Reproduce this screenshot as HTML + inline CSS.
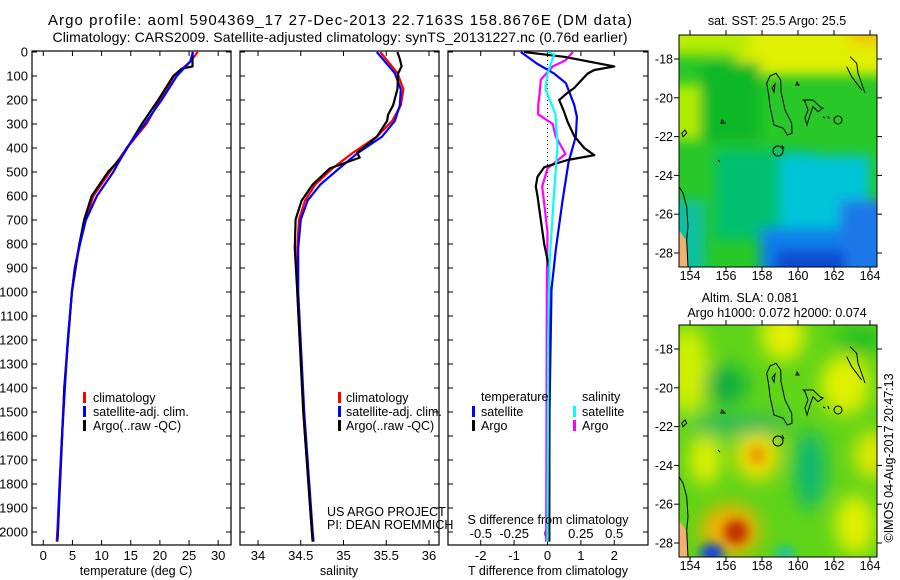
<!DOCTYPE html>
<html><head><meta charset="utf-8"><style>
html,body{margin:0;padding:0;background:#fff;}
svg{display:block;font-family:"Liberation Sans",sans-serif;}
text{fill:#000;}
</style></head><body>
<svg id="fig" width="900" height="580" viewBox="0 0 900 580">
<defs>
<clipPath id="c1"><rect x="32" y="51" width="199" height="494"/></clipPath>
<clipPath id="c2"><rect x="240" y="51" width="199" height="494"/></clipPath>
<clipPath id="c3"><rect x="448" y="51" width="200" height="494"/></clipPath>
<clipPath id="cm1"><rect x="679" y="35" width="198" height="232"/></clipPath>
<clipPath id="cm2"><rect x="679" y="325" width="198" height="232"/></clipPath>
<filter id="bl" x="-50%" y="-50%" width="200%" height="200%"><feGaussianBlur stdDeviation="9"/></filter>
<filter id="bl3" x="-50%" y="-50%" width="200%" height="200%"><feGaussianBlur stdDeviation="6"/></filter>
<filter id="bl2" x="-50%" y="-50%" width="200%" height="200%"><feGaussianBlur stdDeviation="5"/></filter>
<g id="coast" fill="none" stroke="#000" stroke-width="1">
<path d="M766.7,83.3 L770,76 L776,73.3 L780.7,80 L781,91.7 L785,110 L791.7,123.3 L792,133.3 L787.3,135 L783.3,128.3 L774,125 L770,106.7 L768.7,95 Z"/>
<path d="M772,88 L775,84 L774,92 Z"/>
<path d="M803.3,100 L813,100 L820,106.7 L823,108 L818,111.7 L813,106.7 L810,115 L807,125 L805,118 L808,110 L805,101.7 Z"/>
<path d="M797,82 L799,85 L796,85 Z"/>
<path d="M823,117 L825,118 M828,116 L829,119"/>
<circle cx="838" cy="120" r="4"/>
<circle cx="778" cy="151" r="5"/>
<path d="M782,145 L784,149"/>
<path d="M722,120 L725,123 L721,123 Z"/>
<path d="M718,160 L720,162"/>
<path d="M850,56.7 L856.7,63.3 L858,73 L865,93 M846.7,66.7 L851.7,76.7 L861.7,90"/>
<path d="M679,186.7 L683,193 L686.7,206.7 L688,226.7 L686.7,240 L688,267"/>
<path d="M681.7,133.3 L685,130 L686.7,133 L683,136.7 Z"/>
</g>
</defs>

<text x="340" y="25" font-size="15" text-anchor="middle" textLength="584">Argo profile: aoml 5904369_17 27-Dec-2013 22.7163S 158.8676E (DM data)</text>
<text x="340" y="42" font-size="14" text-anchor="middle" textLength="575">Climatology: CARS2009. Satellite-adjusted climatology: synTS_20131227.nc (0.76d earlier)</text>

<g id="axes" font-size="13"></g>
<g id="series"></g>

<g font-size="12.5">
<rect x="83" y="392" width="3" height="11" fill="#f00"/><text x="93" y="402">climatology</text>
<rect x="83" y="406" width="3" height="11" fill="#00f"/><text x="93" y="416">satellite-adj. clim.</text>
<rect x="83" y="420" width="3" height="11" fill="#000"/><text x="93" y="430">Argo(..raw -QC)</text>
</g>
<g font-size="12.5">
<rect x="338" y="392" width="3" height="11" fill="#f00"/><text x="346" y="402">climatology</text>
<rect x="338" y="406" width="3" height="11" fill="#00f"/><text x="346" y="416">satellite-adj. clim.</text>
<rect x="338" y="420" width="3" height="11" fill="#000"/><text x="346" y="430">Argo(..raw -QC)</text>
</g>
<g font-size="12.5">
<text x="481" y="401">temperature</text><text x="582" y="401">salinity</text>
<rect x="472" y="406" width="3" height="11" fill="#00f"/><text x="481" y="416">satellite</text>
<rect x="472" y="420" width="3" height="11" fill="#000"/><text x="481" y="430">Argo</text>
<rect x="573" y="406" width="3" height="11" fill="#0ff"/><text x="582" y="416">satellite</text>
<rect x="573" y="420" width="3" height="11" fill="#f0f"/><text x="582" y="430">Argo</text>
</g>
<text x="327" y="516" font-size="12.5">US ARGO PROJECT</text>
<text x="327" y="529" font-size="12.5">PI: DEAN ROEMMICH</text>
<text x="548" y="524" font-size="12.5" text-anchor="middle">S difference from climatology</text>
<text x="136" y="575" font-size="12.5" text-anchor="middle">temperature (deg C)</text>
<text x="339" y="575" font-size="12.5" text-anchor="middle">salinity</text>
<text x="548" y="575" font-size="12.5" text-anchor="middle">T difference from climatology</text>

<!-- SST map -->
<g clip-path="url(#cm1)">
<rect x="679" y="35" width="198" height="232" fill="#28c828"/>
<g filter="url(#bl3)">
<rect x="735" y="0" width="180" height="75" fill="#e0f000"/>
<rect x="650" y="0" width="100" height="55" fill="#b8ec00"/>
<rect x="850" y="0" width="60" height="45" fill="#f0c800"/>
<rect x="650" y="85" width="52" height="55" fill="#b0ec00"/>
<rect x="700" y="62" width="60" height="80" fill="#10b828"/>
<rect x="715" y="150" width="100" height="90" fill="#00c070"/>
<rect x="780" y="155" width="90" height="80" fill="#00c4d8"/>
<rect x="650" y="200" width="55" height="90" fill="#10c0a0"/>
<rect x="760" y="228" width="150" height="70" fill="#1080e8"/>
<rect x="840" y="200" width="70" height="80" fill="#1a78e8"/>
<rect x="775" y="250" width="70" height="40" fill="#1048d0"/>
</g>
<path d="M679,230 L686,240 L688,267 L679,267 Z" fill="#f0b070"/>
<use href="#coast"/>
</g>
<rect x="679" y="35" width="198" height="232" fill="none" stroke="#000"/>
<text x="777" y="25" font-size="12.5" text-anchor="middle">sat. SST: 25.5 Argo: 25.5</text>

<!-- SLA map -->
<g clip-path="url(#cm2)">
<rect x="679" y="325" width="198" height="232" fill="#60d418"/>
<g filter="url(#bl)">
<ellipse cx="688" cy="370" rx="20" ry="45" fill="#d0f000"/>
<ellipse cx="783" cy="335" rx="22" ry="26" fill="#e4f000"/>
<ellipse cx="845" cy="385" rx="25" ry="30" fill="#e0f000"/>
<ellipse cx="872" cy="455" rx="18" ry="24" fill="#e0e800"/>
<ellipse cx="705" cy="460" rx="16" ry="25" fill="#e0f000"/>
<ellipse cx="757" cy="455" rx="22" ry="26" fill="#f0e000"/>
<ellipse cx="855" cy="525" rx="20" ry="30" fill="#e0f000"/>
<ellipse cx="730" cy="530" rx="30" ry="26" fill="#f0b000"/>
<ellipse cx="726" cy="385" rx="22" ry="20" fill="#10b040"/>
<ellipse cx="740" cy="425" rx="50" ry="10" fill="#20b860"/>
<ellipse cx="810" cy="470" rx="16" ry="40" fill="#10b870"/>
<ellipse cx="860" cy="340" rx="25" ry="14" fill="#20c020"/>
</g>
<g filter="url(#bl2)">
<ellipse cx="757" cy="455" rx="9" ry="10" fill="#e8a000"/>
<ellipse cx="736" cy="532" rx="12" ry="12" fill="#c03000"/>
<ellipse cx="712" cy="553" rx="12" ry="9" fill="#1040e0"/>
<ellipse cx="785" cy="553" rx="10" ry="6" fill="#10c0c0"/>
</g>
<path d="M679,520 L686,530 L688,557 L679,557 Z" fill="#f0b070"/>
<g transform="translate(0,290)"><use href="#coast"/></g>
</g>
<rect x="679" y="325" width="198" height="232" fill="none" stroke="#000"/>
<text x="750" y="302" font-size="12.5" text-anchor="middle">Altim. SLA: 0.081</text>
<text x="777" y="317" font-size="12.5" text-anchor="middle">Argo h1000: 0.072 h2000: 0.074</text>
<text transform="translate(893,458) rotate(-90)" font-size="12.5" text-anchor="middle">©IMOS 04-Aug-2017 20:47:13</text>
<g id="mapaxes" font-size="12.5"></g>

<script>
// ---- data ----
const depthTicks = [0,100,200,300,400,500,600,700,800,900,1000,1100,1200,1300,1400,1500,1600,1700,1800,1900,2000];
const tempTicks = [0,5,10,15,20,25,30];
const salTicks = [34,34.5,35,35.5,36];
const salTickLabels = ["34","34.5","35","35.5","36"];
const tDiffTicks = [-2,-1,0,1,2];
const sDiffTicks = [-0.5,-0.25,0,0.25,0.5];
const sDiffTickLabels = ["-0.5","-0.25","0","0.25","0.5"];
const lonTicks = [154,156,158,160,162,164];
const latTicks = [-18,-20,-22,-24,-26,-28];

const tClimDepth = [0,40,100,200,300,400,500,600,700,800,900,1000,1200,1400,1600,1800,2000,2040];
const tClim = [26.5,25.2,22.4,20.0,17.7,14.3,11.4,8.6,7.2,6.2,5.4,4.9,4.2,3.6,3.2,2.8,2.4,2.3];
const tSat = [25.7,25.2,22.9,20.3,17.4,14.3,12.0,9.2,7.3,6.3,5.4,4.9,4.2,3.7,3.2,2.8,2.5,2.4];
const tArgoDepth = [0,60,70,100,200,300,440,500,600,700,800,1000,1400,2000,2040];
const tArgo = [25.6,25.6,23.7,22.3,19.7,16.9,13.4,11.1,8.3,7.0,6.2,4.9,3.6,2.5,2.4];

const sClimDepth = [0,88,155,222,287,353,420,485,552,619,698,817,1000,1500,2000,2040];
const sClim = [35.43,35.63,35.70,35.67,35.57,35.39,35.11,34.87,34.67,34.55,34.48,34.46,34.46,34.53,34.63,34.64];
const sSatDepth = [0,88,155,222,287,353,420,485,552,619,698,817,1000,1500,2000,2040];
const sSat = [35.39,35.6,35.67,35.66,35.6,35.45,35.17,34.95,34.73,34.58,34.5,34.47,34.47,34.54,34.64,34.65];
const sArgoDepth = [0,30,60,88,155,222,262,287,353,420,440,485,552,619,698,817,1000,1500,2000,2040];
const sArgo = [35.63,35.66,35.68,35.64,35.63,35.58,35.52,35.51,35.39,35.16,35.19,34.84,34.64,34.51,34.44,34.43,34.46,34.53,34.63,34.64];

const dTSatDepth = [0,50,90,130,220,270,350,460,620,820,990,1500,2040];
const dTSat = [-0.8,-0.3,0.2,0.55,0.8,0.88,0.85,0.63,0.45,0.25,0.12,0.06,0.05];
const dTArgoDepth = [0,20,60,75,90,120,150,170,200,250,290,350,400,430,450,480,520,560,600,700,800,900,1000,1500,2040];
const dTArgo = [-0.7,0.5,2.0,1.4,1.2,1.0,0.8,0.6,0.35,0.5,0.6,0.8,1.1,1.4,0.6,-0.1,-0.3,-0.35,-0.3,-0.2,-0.1,0.05,0.05,0.05,0.05];
const dSSatDepth = [0,10,90,155,260,390,620,880,1200,2040];
const dSSat = [0,0.05,0,-0.015,0.06,0.075,0.045,0.015,0.005,0];
const dSArgoDepth = [0,35,60,115,180,220,260,300,350,425,485,560,750,1000,2040];
const dSArgo = [0.19,0.135,0.04,-0.05,-0.06,-0.07,-0.07,0.04,0.06,0.135,0,-0.04,0,-0.005,-0.01];

// ---- scales ----
const NS='http://www.w3.org/2000/svg';
const yD = d => 52 + 0.24*d;
const xT = t => 43.3 + 5.83*t;
const xS = s => 258 + 85.5*(s-34);
const xdT = v => 547.5 + 33.4*v;
const xdS = v => 547.5 + 133.3*v;
const xLon = l => 690 + 18*(l-154);
const yLat1 = l => 59 + 19.4*(-18-l);
const yLat2 = l => 349 + 19.4*(-18-l);

const axes = document.getElementById('axes');
const series = document.getElementById('series');
const mapaxes = document.getElementById('mapaxes');
function mk(tag, attrs, parent){const e=document.createElementNS(NS,tag);for(const k in attrs)e.setAttribute(k,attrs[k]);parent.appendChild(e);return e;}

const panels = [[32,'temperature-panel'],[240,'salinity-panel'],[448,'difference-panel']];
panels.forEach(([x0,name])=>{
  const w = x0===448?200:199;
  const r = mk('rect',{x:x0,y:51,width:w,height:494,fill:'none',stroke:'#000','stroke-width':1.2},axes);
  
  
  depthTicks.forEach(d=>{
    mk('line',{x1:x0,x2:x0+5,y1:yD(d),y2:yD(d),stroke:'#000'},axes);
    mk('line',{x1:x0+w-5,x2:x0+w,y1:yD(d),y2:yD(d),stroke:'#000'},axes);
  });
});
depthTicks.forEach(d=>{
  const t = mk('text',{x:28,y:yD(d)+4.5,'text-anchor':'end'},axes);
  t.textContent = d;
  
  
});
function xticks(vals, labels, fx, ly){
  vals.forEach((v,i)=>{
    const x=fx(v);
    mk('line',{x1:x,x2:x,y1:51,y2:56,stroke:'#000'},axes);
    mk('line',{x1:x,x2:x,y1:540,y2:545,stroke:'#000'},axes);
    const t = mk('text',{x:x,y:ly,'text-anchor':'middle'},axes);
    t.textContent = labels[i];
    
    
  });
}
xticks(tempTicks, tempTicks.map(String), xT, 560);
xticks(salTicks, salTickLabels, xS, 560);
xticks(tDiffTicks, tDiffTicks.map(String), xdT, 560);
sDiffTicks.forEach((v,i)=>{
  const t = mk('text',{x:xdS(v),y:538,'text-anchor':'middle'},axes);
  t.textContent = sDiffTickLabels[i];
  
  
});

const zl = mk('line',{x1:xdT(0),x2:xdT(0),y1:yD(0),y2:yD(700),stroke:'#000','stroke-dasharray':'1,3'},series);



function line(depths, vals, fx, color, clip, name){
  const d = depths.map((dp,i)=>(i?'L':'M')+fx(vals[i]).toFixed(1)+','+yD(dp).toFixed(1)).join(' ');
  const p = mk('path',{d:d,fill:'none',stroke:color,'stroke-width':2.2,'clip-path':'url(#'+clip+')','stroke-linejoin':'round'},series);
  
  
}
line(tClimDepth,tClim,xT,'#f00','c1','temperature-climatology-line');
line(tArgoDepth,tArgo,xT,'#000','c1','temperature-argo-line');
line(tClimDepth,tSat,xT,'#00f','c1','temperature-satellite-line');
line(sClimDepth,sClim,xS,'#f00','c2','salinity-climatology-line');
line(sSatDepth,sSat,xS,'#00f','c2','salinity-satellite-line');
line(sArgoDepth,sArgo,xS,'#000','c2','salinity-argo-line');
line(dSArgoDepth,dSArgo,xdS,'#f0f','c3','salinity-argo-difference-line');
line(dTSatDepth,dTSat,xdT,'#00f','c3','temperature-satellite-difference-line');
line(dTArgoDepth,dTArgo,xdT,'#000','c3','temperature-argo-difference-line');
line(dSSatDepth,dSSat,xdS,'#0ff','c3','salinity-satellite-difference-line');

[[35,267,yLat1,280],[325,557,yLat2,570]].forEach(([top,bot,fy,ly])=>{
  lonTicks.forEach(l=>{
    const x=xLon(l);
    mk('line',{x1:x,x2:x,y1:top-5,y2:top,stroke:'#000'},mapaxes);
    mk('line',{x1:x,x2:x,y1:bot,y2:bot+5,stroke:'#000'},mapaxes);
    const t=mk('text',{x:x,y:ly,'text-anchor':'middle'},mapaxes);
    t.textContent=l;
    
    
  });
  latTicks.forEach(l=>{
    const y=fy(l);
    mk('line',{x1:674,x2:679,y1:y,y2:y,stroke:'#000'},mapaxes);
    mk('line',{x1:877,x2:882,y1:y,y2:y,stroke:'#000'},mapaxes);
    const t=mk('text',{x:673,y:y+4.5,'text-anchor':'end'},mapaxes);
    t.textContent=l;
    
    
  });
});
</script>
</svg>
</body></html>
